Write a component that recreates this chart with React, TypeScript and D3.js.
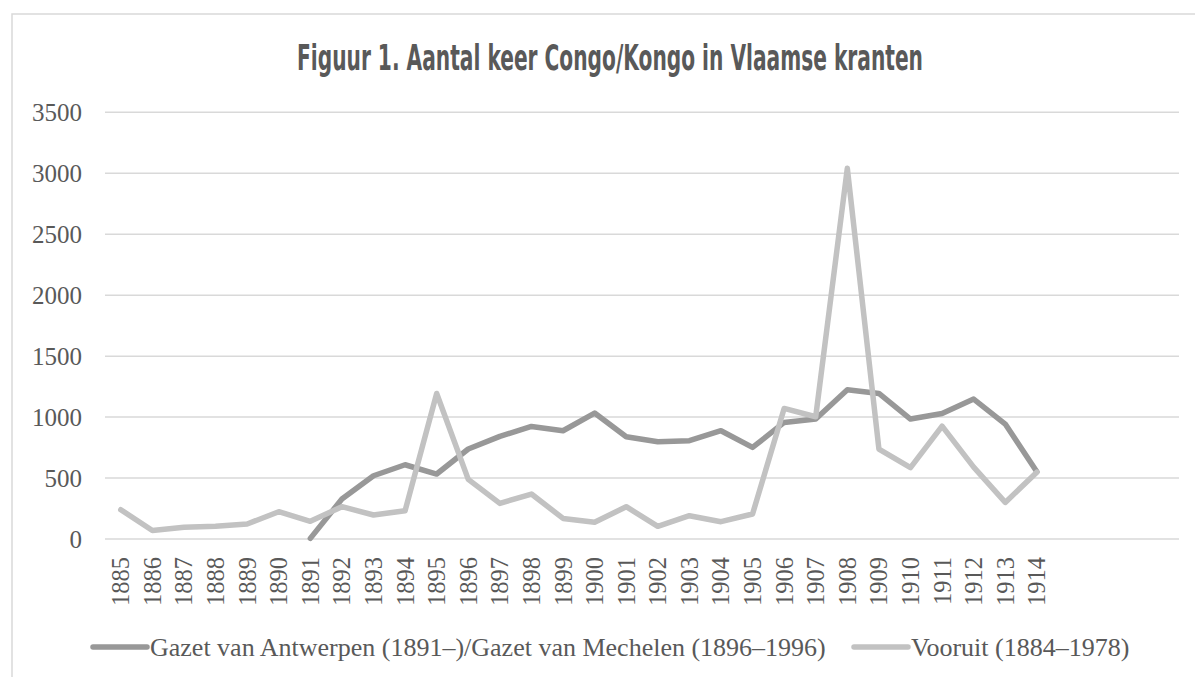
import React, { useEffect, useRef } from "react";
import * as d3 from "d3";

// years on the category axis (Excel keeps four empty slots at the end)
const years = [
  "1885", "1886", "1887", "1888", "1889", "1890", "1891", "1892", "1893", "1894",
  "1895", "1896", "1897", "1898", "1899", "1900", "1901", "1902", "1903", "1904",
  "1905", "1906", "1907", "1908", "1909", "1910", "1911", "1912", "1913", "1914",
];
const emptySlots = ["e1", "e2", "e3", "e4"];

// Gazet van Antwerpen / Gazet van Mechelen, from 1891
const gazet: (number | null)[] = [
  null, null, null, null, null, null, 5, 328, 519, 609,
  533, 738, 842, 923, 888, 1033, 839, 798, 806, 888,
  751, 956, 984, 1224, 1194, 984, 1030, 1148, 943, 552,
];

// Vooruit
const vooruit: number[] = [
  240, 70, 96, 104, 123, 224, 145, 265, 197, 232,
  1194, 489, 292, 369, 169, 137, 265, 104, 191, 142,
  205, 1071, 1003, 3041, 738, 585, 926, 590, 300, 548,
];

const yTicks = [0, 500, 1000, 1500, 2000, 2500, 3000, 3500];

const seriesNames = [
  "Gazet van Antwerpen (1891\u2013)/Gazet van Mechelen (1896\u20131996)",
  "Vooruit (1884\u20131978)",
];
const seriesColors = ["#989898", "#c2c2c2"];

const W = 1195;
const H = 677;
const serif = "'Liberation Serif', 'Times New Roman', serif";

function Chart() {
  const ref = useRef<SVGSVGElement>(null);

  useEffect(() => {
    const svg = d3.select(ref.current);
    svg.selectAll("*").remove();

    // outer frame
    svg
      .append("path")
      .attr("d", `M12,${H + 5}V14H${W + 5}`)
      .attr("fill", "none")
      .attr("stroke", "#d9d9d9")
      .attr("stroke-width", 1.5);

    svg
      .append("text")
      .attr("x", 610)
      .attr("y", 70)
      .attr("text-anchor", "middle")
      .attr("font-family", "'Liberation Sans Narrow', 'DejaVu Sans Condensed', sans-serif")
      .attr("font-weight", "bold")
      .attr("font-size", 35)
      .attr("fill", "#595959")
      .attr("textLength", 626)
      .attr("lengthAdjust", "spacingAndGlyphs")
      .text("Figuur 1. Aantal keer Congo/Kongo in Vlaamse kranten");

    const x = d3
      .scaleBand<string>()
      .domain([...years, ...emptySlots])
      .range([105, 1179]);
    const y = d3.scaleLinear().domain([0, 3500]).range([539, 112.3]);

    const g = svg.append("g");

    // gridlines
    g.selectAll("line.grid")
      .data(yTicks)
      .join("line")
      .attr("class", "grid")
      .attr("x1", 105)
      .attr("x2", 1179)
      .attr("y1", (d) => y(d))
      .attr("y2", (d) => y(d))
      .attr("stroke", "#d9d9d9")
      .attr("stroke-width", 1.5);

    // y labels
    g.selectAll("text.ylab")
      .data(yTicks)
      .join("text")
      .attr("class", "ylab")
      .attr("x", 82)
      .attr("y", (d) => y(d) + 9)
      .attr("text-anchor", "end")
      .attr("font-family", serif)
      .attr("font-size", 25)
      .attr("fill", "#595959")
      .text((d) => String(d));

    // x labels, rotated
    g.selectAll("text.xlab")
      .data(years)
      .join("text")
      .attr("class", "xlab")
      .attr("transform", (d) => `translate(${x(d)! + x.bandwidth() / 2 + 8.5},557) rotate(-90)`)
      .attr("text-anchor", "end")
      .attr("font-family", serif)
      .attr("font-size", 24.5)
      .attr("fill", "#595959")
      .text((d) => d);

    const cx = (i: number) => x(years[i])! + x.bandwidth() / 2;

    const line = d3
      .line<number | null>()
      .defined((d) => d !== null)
      .x((_, i) => cx(i))
      .y((d) => y(d as number));

    [gazet, vooruit].forEach((s, k) => {
      g.append("path")
        .datum(s)
        .attr("d", line)
        .attr("fill", "none")
        .attr("stroke", seriesColors[k])
        .attr("stroke-width", 5.5)
        .attr("stroke-linejoin", "round")
        .attr("stroke-linecap", "round");
    });

    // legend
    const legendX = [93, 854];
    seriesNames.forEach((name, k) => {
      const lg = svg.append("g").attr("transform", `translate(${legendX[k]},647)`);
      lg.append("line")
        .attr("x1", 0)
        .attr("x2", 54)
        .attr("stroke", seriesColors[k])
        .attr("stroke-width", 5.5)
        .attr("stroke-linecap", "round");
      lg.append("text")
        .attr("x", 57)
        .attr("y", 9)
        .attr("font-family", serif)
        .attr("font-size", 26)
        .attr("fill", "#595959")
        .text(name);
    });
  }, []);

  return (
    <svg
      ref={ref}
      width={W}
      height={H}
      style={{ position: "absolute", left: 0, top: 0, background: "#fff" }}
    />
  );
}

export default function App() {
  return <Chart />;
}
